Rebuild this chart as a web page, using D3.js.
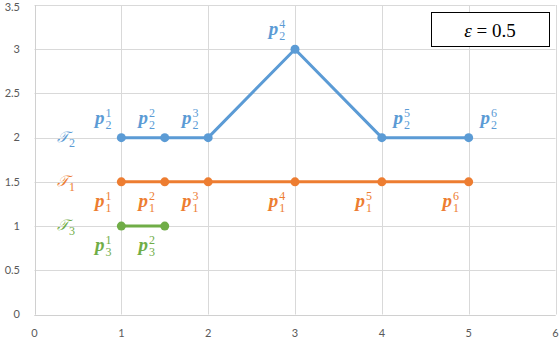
<!DOCTYPE html>
<html>
<head>
<meta charset="utf-8">
<script src="https://cdn.jsdelivr.net/npm/d3@7"></script>
<style>
  body { margin: 0; background: #fff; }
  svg { display: block; }
</style>
</head>
<body>
<svg id="chart" width="560" height="338"></svg>
<script>
// --- data ---
const xTicks = [0, 1, 2, 3, 4, 5, 6];
const yTicks = [0, 0.5, 1, 1.5, 2, 2.5, 3, 3.5];

const t2X = [1, 1.5, 2, 3, 4, 5];
const t2Y = [2, 2, 2, 3, 2, 2];
const t1X = [1, 1.5, 2, 3, 4, 5];
const t1Y = [1.5, 1.5, 1.5, 1.5, 1.5, 1.5];
const t3X = [1, 1.5];
const t3Y = [1, 1];

// which side of the point the p label sits on
const t2Side = ["left", "left", "left", "left", "right", "right"];
const t1Side = ["left", "left", "left", "left", "left", "left"];
const t3Side = ["left", "left"];

const series = [
  { idx: 2, xs: t2X, ys: t2Y, side: t2Side, color: "#5B9BD5", above: true },
  { idx: 1, xs: t1X, ys: t1Y, side: t1Side, color: "#ED7D31", above: false },
  { idx: 3, xs: t3X, ys: t3Y, side: t3Side, color: "#70AD47", above: false }
];

const epsilonText = "0.5";

// --- layout ---
const plot = { left: 34.5, right: 555.5, top: 5, bottom: 314.5 };
const svg = d3.select("#chart");

const x = d3.scaleLinear().domain([0, 6]).range([plot.left, plot.right]);
const y = d3.scaleLinear().domain([0, 3.5]).range([plot.bottom, plot.top]);

// gridlines
svg.append("g")
  .selectAll("line")
  .data(xTicks)
  .join("line")
  .attr("x1", d => Math.round(x(d)) + 0.5)
  .attr("x2", d => Math.round(x(d)) + 0.5)
  .attr("y1", plot.top)
  .attr("y2", plot.bottom)
  .attr("stroke", "#d9d9d9")
  .attr("stroke-width", 1);

svg.append("g")
  .selectAll("line")
  .data(yTicks)
  .join("line")
  .attr("x1", plot.left)
  .attr("x2", plot.right)
  .attr("y1", d => Math.round(y(d)) + 0.5)
  .attr("y2", d => Math.round(y(d)) + 0.5)
  .attr("stroke", "#d9d9d9")
  .attr("stroke-width", 1);

// axis lines a touch darker
svg.append("line")
  .attr("x1", Math.round(x(0)) + 0.5).attr("x2", Math.round(x(0)) + 0.5)
  .attr("y1", plot.top).attr("y2", plot.bottom)
  .attr("stroke", "#d0d0d0");
svg.append("line")
  .attr("x1", plot.left).attr("x2", plot.right)
  .attr("y1", Math.round(y(0)) + 0.5).attr("y2", Math.round(y(0)) + 0.5)
  .attr("stroke", "#d0d0d0");

// tick labels
const tickFont = "Lato, 'Liberation Sans', sans-serif";
svg.append("g")
  .selectAll("text")
  .data(yTicks)
  .join("text")
  .attr("x", 20)
  .attr("y", d => Math.max(y(d), 7))
  .attr("dy", "0.35em")
  .attr("text-anchor", "end")
  .attr("fill", "#595959")
  .style("font-family", tickFont)
  .style("font-size", "11px")
  .text(d => d3.format("~g")(d));

svg.append("g")
  .selectAll("text")
  .data(xTicks)
  .join("text")
  .attr("x", d => x(d))
  .attr("y", 333)
  .attr("dy", "0.35em")
  .attr("text-anchor", "middle")
  .attr("fill", "#595959")
  .style("font-family", tickFont)
  .style("font-size", "11px")
  .text(d => d);

// lines and markers
const lineGen = d3.line().x(d => x(d[0])).y(d => y(d[1]));
const mathFont = "'Liberation Serif', 'DejaVu Serif', serif";

// one text element: base glyph, superscript and subscript stacked after it
function scriptLabel(parent, base, sup, sub, color, baseStyle, baseSize) {
  const t = parent.append("text")
    .attr("fill", color)
    .style("font-family", mathFont);
  const b = t.append("tspan")
    .attr("x", 0).attr("y", 0)
    .style("font-size", baseSize + "px")
    .style("font-style", "italic")
    .style("font-weight", baseStyle)
    .text(base);
  const bw = b.node().getComputedTextLength();
  if (sup !== null) {
    t.append("tspan")
      .attr("x", bw + 1).attr("y", -7)
      .style("font-size", "12px")
      .text(sup);
  }
  t.append("tspan")
    .attr("x", bw + 1).attr("y", 5)
    .style("font-size", "12px")
    .text(sub);
  return bw + 7;
}

series.forEach(s => {
  const pts = s.xs.map((v, i) => [v, s.ys[i]]);
  svg.append("path")
    .attr("d", lineGen(pts))
    .attr("fill", "none")
    .attr("stroke", s.color)
    .attr("stroke-width", 3)
    .attr("stroke-linejoin", "round");

  svg.append("g")
    .selectAll("circle")
    .data(pts)
    .join("circle")
    .attr("cx", d => x(d[0]))
    .attr("cy", d => y(d[1]))
    .attr("r", 4.5)
    .attr("fill", s.color);

  // point labels  p_{idx}^{k}
  pts.forEach((d, i) => {
    const g = svg.append("g");
    const w = scriptLabel(g, "p", i + 1, s.idx, s.color, "bold", 19);
    const cx = x(d[0]) + (s.side[i] === "left" ? -18 : 20);
    const by = y(d[1]) + (s.above ? -14 : 25);
    g.attr("transform", `translate(${cx - w / 2},${by})`);
  });

  // series name  T_{idx}
  const tg = svg.append("g")
    .attr("transform", `translate(${x(0.35) - 8},${y(s.ys[0]) + 4})`);
  scriptLabel(tg, "\u{1D4AF}", null, s.idx, s.color, "normal", 15);
});

// epsilon box
svg.append("rect")
  .attr("x", 431.5).attr("y", 12.5)
  .attr("width", 118).attr("height", 34)
  .attr("fill", "#fff")
  .attr("stroke", "#000")
  .attr("stroke-width", 1);
const eps = svg.append("text")
  .attr("x", 490).attr("y", 30)
  .attr("dy", "0.35em")
  .attr("text-anchor", "middle")
  .attr("fill", "#000")
  .style("font-family", mathFont)
  .style("font-size", "19px");
eps.append("tspan").style("font-style", "italic").text("\u03B5");
eps.append("tspan").text(" = " + epsilonText);
</script>
</body>
</html>
